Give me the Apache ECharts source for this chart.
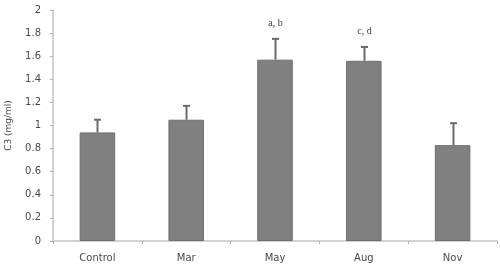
<!DOCTYPE html>
<html>
<head>
<meta charset="utf-8">
<script src="https://cdn.jsdelivr.net/npm/echarts@6/dist/echarts.min.js"></script>
<style>
html,body{margin:0;padding:0;background:#fff;}
#chart{width:500px;height:269px;}
</style>
</head>
<body>
<div id="chart"></div>
<script>
var categories = ["Control", "Mar", "May", "Aug", "Nov"];
var means = [0.94, 1.05, 1.57, 1.56, 0.83];
var errors = [0.11, 0.12, 0.18, 0.12, 0.19];
var annotations = ["", "", "a, b", "c, d", ""];
var yTicks = [0, 0.2, 0.4, 0.6, 0.8, 1, 1.2, 1.4, 1.6, 1.8, 2];

var chart = echarts.init(document.getElementById('chart'), null, {renderer: 'canvas'});

var errData = categories.map(function (c, i) { return [i, means[i], means[i] + errors[i]]; });

chart.setOption({
  animation: false,
  grid: {left: 53, right: 3, top: 10, bottom: 28, containLabel: false, outerBoundsMode: 'none'},
  xAxis: {
    type: 'category',
    data: categories,
    axisLine: {lineStyle: {color: '#c4c4c4', width: 1.5}},
    axisTick: {show: true, length: 3, lineStyle: {color: '#b0b0b0'}},
    axisLabel: {color: '#4a4a4a', fontSize: 10, fontFamily: 'DejaVu Sans', margin: 12}
  },
  yAxis: {
    type: 'value',
    min: 0, max: 2, interval: 0.2,
    name: 'C3 (mg/ml)',
    nameLocation: 'middle',
    nameGap: 40,
    nameTextStyle: {color: '#4a4a4a', fontSize: 9, fontFamily: 'DejaVu Sans'},
    axisLine: {show: true, lineStyle: {color: '#c4c4c4', width: 1.5}},
    axisTick: {show: true, length: 3, inside: false, lineStyle: {color: '#b0b0b0'}},
    splitLine: {show: false},
    axisLabel: {
      color: '#4a4a4a', fontSize: 10, fontFamily: 'DejaVu Sans', margin: 12,
      formatter: function (v) {
        var m = yTicks.filter(function (t) { return Math.abs(t - v) < 1e-6; });
        return m.length ? String(m[0]) : '';
      }
    }
  },
  series: [
    {
      type: 'bar',
      data: means,
      barWidth: '40%',
      itemStyle: {color: '#808080', borderColor: '#6e6e6e', borderWidth: 1}
    },
    {
      type: 'custom',
      data: errData,
      z: 5,
      renderItem: function (params, api) {
        var i = api.value(0);
        var base = api.coord([i, api.value(1)]);
        var top = api.coord([i, api.value(2)]);
        var x = Math.round(base[0]) + 0.5;
        var children = [
          {type: 'line', shape: {x1: x, y1: base[1], x2: x, y2: top[1]}, style: {stroke: '#6a6a6a', lineWidth: 2}},
          {type: 'line', shape: {x1: x - 3.5, y1: top[1], x2: x + 3.5, y2: top[1]}, style: {stroke: '#6a6a6a', lineWidth: 2}}
        ];
        var txt = annotations[params.dataIndex];
        if (txt) {
          children.push({
            type: 'text',
            style: {
              text: txt, x: x, y: top[1] - 11,
              textAlign: 'center', textVerticalAlign: 'bottom',
              fontFamily: 'Liberation Serif', fontSize: 10, fill: '#404040'
            }
          });
        }
        return {type: 'group', children: children};
      }
    }
  ]
});
</script>
</body>
</html>
